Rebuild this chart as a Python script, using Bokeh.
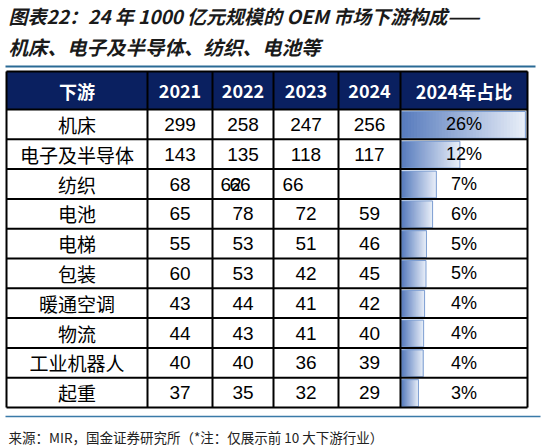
from bokeh.plotting import figure
from bokeh.models import Range1d
from bokeh.core.properties import value
from bokeh.embed import file_html
from bokeh.resources import INLINE

# table data
categories = ["机床", "电子及半导体", "纺织", "电池", "电梯", "包装", "暖通空调", "物流", "工业机器人", "起重"]
v2021 = [299, 143, 68, 65, 55, 60, 43, 44, 40, 37]
v2022 = [258, 135, 62, 78, 53, 53, 44, 43, 40, 35]
v2023 = [247, 118, 66, 72, 51, 42, 41, 41, 36, 32]
v2024 = [256, 117, None, 59, 46, 45, 42, 40, 39, 29]
share_2024 = [25.6, 11.7, 6.7, 5.9, 4.6, 4.5, 4.2, 4.0, 3.9, 2.9]
share_labels = ["26%", "12%", "7%", "6%", "5%", "5%", "4%", "4%", "4%", "3%"]
headers = ["下游", "2021", "2022", "2023", "2024", "2024年占比"]

title_1 = "图表22：24 年 1000 亿元规模的 OEM 市场下游构成——"
title_2 = "机床、电子及半导体、纺织、电池等"
source = "来源：MIR，国金证券研究所（*注：仅展示前 10 大下游行业）"

CN = "Noto Sans CJK SC"
NUM = "Liberation Sans"

W, H = 541, 448
p = figure(width=W, height=H, x_range=Range1d(0, W), y_range=Range1d(H, 0),
           output_backend="svg", toolbar_location=None, min_border=0,
           x_axis_location=None, y_axis_location=None)
p.grid.visible = False
p.outline_line_color = None
p.background_fill_color = "white"

# table geometry
col_edges = [6, 147, 212, 273, 338, 400, 527]
head_top, head_bot = 71, 109
row_h = 29.8
n = len(categories)
row_top = [head_bot + i * row_h for i in range(n)]
row_mid = [t + row_h / 2 for t in row_top]
centers = [(a + b) / 2 for a, b in zip(col_edges[:-1], col_edges[1:])]
table_bot = head_bot + n * row_h

# title
p.text(x=[8], y=[15], text=[title_1], text_font=value(CN), text_font_size="19px",
       text_font_style="bold italic", text_color="#1a1a1a", text_baseline="middle")
p.text(x=[8], y=[46], text=[title_2], text_font=value(CN), text_font_size="19.5px",
       text_font_style="bold italic", text_color="#1a1a1a", text_baseline="middle")

# rules above and below the table
p.segment(x0=[5], y0=[66], x1=[535], y1=[66], line_color="#2a6a95", line_width=2)
p.segment(x0=[5], y0=[416], x1=[540], y1=[416], line_color="#3a7aa8", line_width=1.5)

# header
p.quad(left=[col_edges[0]], right=[col_edges[-1]], top=[head_top], bottom=[head_bot],
       fill_color="#0a2060", line_color=None)
p.text(x=centers, y=[(head_top + head_bot) / 2] * 6, text=headers,
       text_font=value(CN), text_font_size="18px", text_font_style="bold",
       text_color="white", text_align="center", text_baseline="middle")

# data bars with gradient (Excel style), layered so no seams show
bar_left = col_edges[5] + 1
bar_min, bar_scale = 3.3, 4.71
c0, c1 = (88, 124, 190), (232, 238, 248)
steps = 40
for i, s in enumerate(share_2024):
    length = bar_min + bar_scale * s
    right = bar_left + length
    lefts, cols = [], []
    for k in range(steps):
        f = k / (steps - 1)
        lefts.append(bar_left + length * k / steps)
        cols.append("#%02x%02x%02x" % tuple(int(a + (b - a) * f) for a, b in zip(c0, c1)))
    p.quad(left=lefts, right=[right] * steps, top=[row_top[i] + 2] * steps,
           bottom=[row_top[i] + row_h - 1] * steps, fill_color=cols, line_color=None)
    p.quad(left=[bar_left], right=[right], top=[row_top[i] + 2],
           bottom=[row_top[i] + row_h - 1], fill_color=None, line_color="#7d9ed2", line_width=1)

# grid lines
p.segment(x0=[col_edges[0]] * (n + 2), x1=[col_edges[-1]] * (n + 2),
          y0=[head_top, head_bot] + [t + row_h for t in row_top],
          y1=[head_top, head_bot] + [t + row_h for t in row_top],
          line_color="black", line_width=2)
p.segment(x0=col_edges, x1=col_edges, y0=[head_top] * 7, y1=[table_bot] * 7,
          line_color="black", line_width=2)

# category labels
p.text(x=[centers[0]] * n, y=row_mid, text=categories, text_font=value(CN),
       text_font_size="19px", text_color="black", text_align="center", text_baseline="middle")


def fmt(v):
    return "" if v is None else str(v)


# numbers (the 纺织 row keeps the misplaced cells of the source table)
for j, vals in enumerate([v2021, v2022, v2023, v2024]):
    xs, ys, ts = [], [], []
    for i, v in enumerate(vals):
        if categories[i] == "纺织" and j in (1, 2):
            continue
        xs.append(centers[j + 1])
        ys.append(row_mid[i])
        ts.append(fmt(v))
    p.text(x=xs, y=ys, text=ts, text_font=value(NUM), text_font_size="19px",
           text_color="black", text_align="center", text_baseline="middle")

ti = categories.index("纺织")
p.text(x=[col_edges[2] + 8, col_edges[2] + 17, col_edges[3] + 9],
       y=[row_mid[ti]] * 3, text=[str(v2022[ti]), str(v2023[ti]), str(v2023[ti])],
       text_font=value(NUM), text_font_size="19px", text_color="black",
       text_align="left", text_baseline="middle")

p.text(x=[centers[5]] * n, y=row_mid, text=share_labels, text_font=value(NUM),
       text_font_size="18px", text_color="black", text_align="center", text_baseline="middle")

# source
p.text(x=[8], y=[436], text=[source], text_font=value(CN), text_font_size="13.5px",
       text_color="#222222", text_baseline="middle")

open("out.html", "w").write(file_html(p, INLINE))
